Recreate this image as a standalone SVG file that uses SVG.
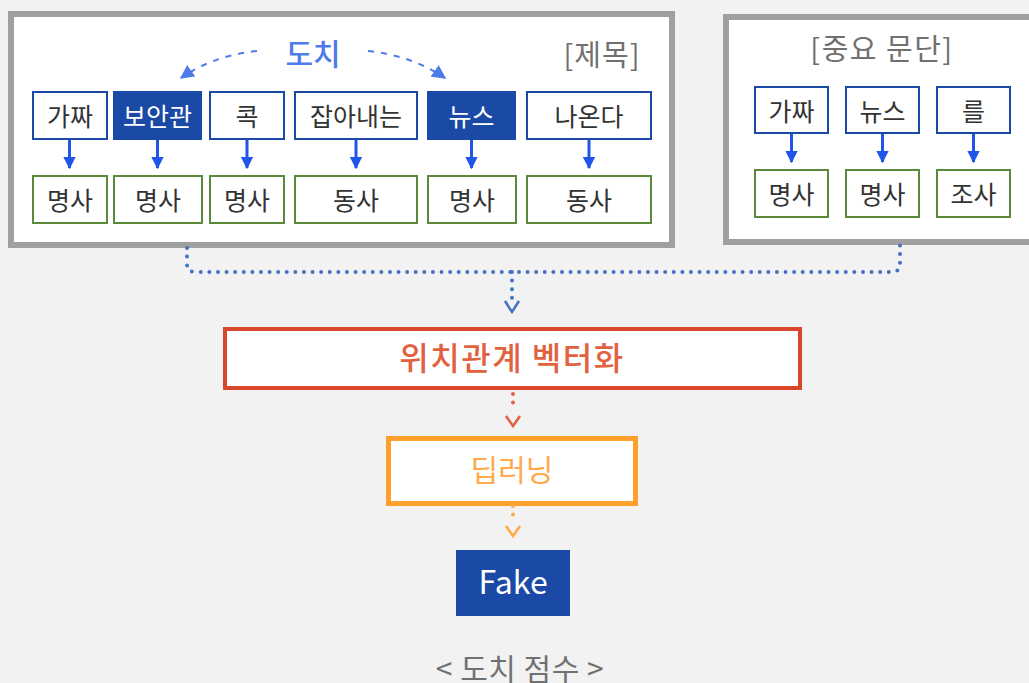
<svg xmlns="http://www.w3.org/2000/svg" width="1029" height="683" viewBox="0 0 1029 683">
<style>
.t{font-family:"Noto Sans CJK KR","Noto Sans",sans-serif;}
.w{font-size:25px;fill:#333;text-anchor:middle;dominant-baseline:central;}
.wb{stroke:#1a4aa6;stroke-width:2;fill:#fff;}
.wf{fill:#1a4aa6;}
.pb{stroke:#5a8a3a;stroke-width:2;fill:#fff;}
.frame{fill:#fff;stroke:#a0a0a0;stroke-width:6;}
.arr{stroke:#1f55e8;stroke-width:3;fill:none;marker-end:url(#ah);}
.dot{fill:none;stroke-width:4;stroke-linecap:round;stroke-dasharray:0 8.6;}
.chev{fill:none;stroke-width:2.5;}
</style>
<defs>
<marker id="ah" viewBox="0 0 10 10" refX="9" refY="5" markerWidth="4.2" markerHeight="4.2" markerUnits="strokeWidth" orient="auto">
<path d="M0,0 L10,5 L0,10 Z" fill="#1f55e8"/>
</marker>
<marker id="dh" viewBox="0 0 10 10" refX="9" refY="5" markerWidth="7" markerHeight="7" markerUnits="strokeWidth" orient="auto">
<path d="M0,0 L10,5 L0,10 Z" fill="#4f7bea"/>
</marker>
</defs>
<rect width="1029" height="683" fill="#f2f2f2"/>

<g id="title-box">
<rect class="frame" x="11" y="14" width="661" height="231"/>
<text class="t" x="313" y="65" font-size="30" font-weight="500" fill="#4f7bea" text-anchor="middle">도치</text>
<text class="t" x="602" y="66" font-size="29" fill="#707070" text-anchor="middle" letter-spacing="1">[제목]</text>
</g>

<g id="para-box">
<rect class="frame" x="726" y="17" width="320" height="225"/>
<text class="t" x="882" y="60" font-size="29" fill="#707070" text-anchor="middle" letter-spacing="1.5">[중요 문단]</text>
</g>

<g id="w1"><rect class="wb" x="33" y="92" width="74" height="47"/><text class="t w" x="70" y="115">가짜</text></g>
<g id="w2"><rect class="wf" x="113" y="91" width="89" height="49"/><text class="t w" x="157.5" y="115" style="fill:#fff">보안관</text></g>
<g id="w3"><rect class="wb" x="210" y="92" width="74" height="47"/><text class="t w" x="247" y="115">콕</text></g>
<g id="w4"><rect class="wb" x="295" y="92" width="122" height="47"/><text class="t w" x="356" y="115">잡아내는</text></g>
<g id="w5"><rect class="wf" x="427" y="91" width="89" height="49"/><text class="t w" x="471.5" y="115" style="fill:#fff">뉴스</text></g>
<g id="w6"><rect class="wb" x="527" y="92" width="124" height="47"/><text class="t w" x="589" y="115">나온다</text></g>

<g id="p1"><rect class="pb" x="33" y="176" width="74" height="47"/><text class="t w" x="70" y="199">명사</text></g>
<g id="p2"><rect class="pb" x="114" y="176" width="88" height="47"/><text class="t w" x="158" y="199">명사</text></g>
<g id="p3"><rect class="pb" x="210" y="176" width="74" height="47"/><text class="t w" x="247" y="199">명사</text></g>
<g id="p4"><rect class="pb" x="295" y="176" width="122" height="47"/><text class="t w" x="356" y="199">동사</text></g>
<g id="p5"><rect class="pb" x="428" y="176" width="88" height="47"/><text class="t w" x="472" y="199">명사</text></g>
<g id="p6"><rect class="pb" x="527" y="176" width="124" height="47"/><text class="t w" x="589" y="199">동사</text></g>

<g id="rw1"><rect class="wb" x="755" y="87" width="73" height="46"/><text class="t w" x="791.5" y="110">가짜</text></g>
<g id="rw2"><rect class="wb" x="846" y="87" width="73" height="46"/><text class="t w" x="882.5" y="110">뉴스</text></g>
<g id="rw3"><rect class="wb" x="937" y="87" width="73" height="46"/><text class="t w" x="973.5" y="110">를</text></g>
<g id="rp1"><rect class="pb" x="755" y="170" width="73" height="47"/><text class="t w" x="791.5" y="193">명사</text></g>
<g id="rp2"><rect class="pb" x="846" y="170" width="73" height="47"/><text class="t w" x="882.5" y="193">명사</text></g>
<g id="rp3"><rect class="pb" x="937" y="170" width="73" height="47"/><text class="t w" x="973.5" y="193">조사</text></g>

<g id="vec">
<rect x="225" y="329" width="575" height="59" fill="#fff" stroke="#d9472b" stroke-width="4"/>
<text class="t" x="512" y="370" font-size="32" font-weight="500" fill="#e0623f" text-anchor="middle" letter-spacing="1.5">위치관계 벡터화</text>
</g>
<g id="dl">
<rect x="388.5" y="438.5" width="247" height="65" fill="#fff" stroke="#ffa02a" stroke-width="5"/>
<text class="t" x="512" y="481" font-size="30" fill="#ffa94a" text-anchor="middle">딥러닝</text>
</g>
<g id="fake">
<rect x="456" y="550" width="114" height="66" fill="#1a4aa6"/>
<text class="t" x="513" y="594" font-size="32" fill="#fff" text-anchor="middle">Fake</text>
</g>
<g id="caption">
<text class="t" x="520" y="680" font-size="30" fill="#707070" text-anchor="middle" letter-spacing="0.5">&lt; 도치 점수 &gt;</text>
</g>

<g id="connectors">
<line class="arr" x1="69.5" y1="140" x2="69.5" y2="168"/>
<line class="arr" x1="157.5" y1="140" x2="157.5" y2="168"/>
<line class="arr" x1="247" y1="140" x2="247" y2="168"/>
<line class="arr" x1="356" y1="140" x2="356" y2="168"/>
<line class="arr" x1="471.5" y1="140" x2="471.5" y2="168"/>
<line class="arr" x1="589" y1="140" x2="589" y2="168"/>
<line class="arr" x1="791.5" y1="134" x2="791.5" y2="162"/>
<line class="arr" x1="882.5" y1="134" x2="882.5" y2="162"/>
<line class="arr" x1="973.5" y1="134" x2="973.5" y2="162"/>

<path d="M257,51 Q212,56 181,78" fill="none" stroke="#4f7bea" stroke-width="2" stroke-dasharray="6 7" marker-end="url(#dh)"/>
<path d="M368,51 Q413,56 445,78" fill="none" stroke="#4f7bea" stroke-width="2" stroke-dasharray="6 7" marker-end="url(#dh)"/>

<path class="dot" stroke="#4472c4" d="M187,248 L187,264 Q187,272 195,272 L892,272 Q900,272 900,264 L900,242"/>
<path class="dot" stroke="#4472c4" d="M512,272 L512,300"/>
<polyline class="chev" stroke="#4472c4" points="505,301 512,312 519,301"/>

<path class="dot" stroke="#e0623f" d="M513,394 L513,411"/>
<polyline class="chev" stroke="#e0623f" points="506,416 513,426 520,416"/>

<path class="dot" stroke="#ffa94a" d="M513,506 L513,523"/>
<polyline class="chev" stroke="#ffa94a" points="506,526 513,536 520,526"/>
</g>
</svg>
